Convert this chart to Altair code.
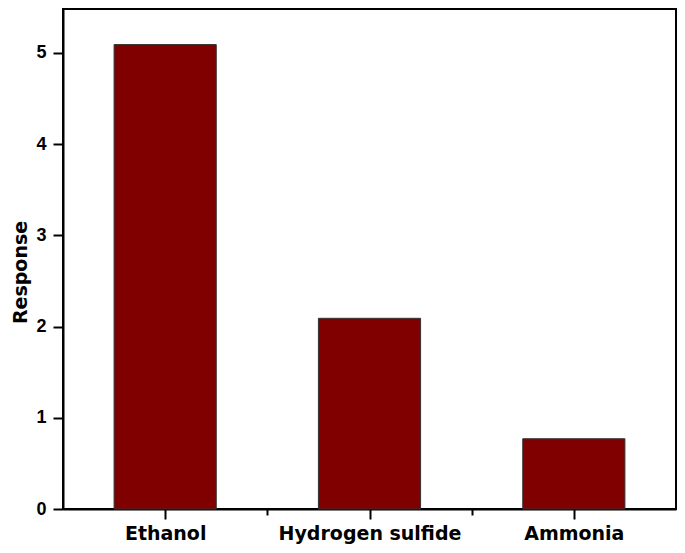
import altair as alt
import pandas as pd

categories = ["Ethanol", "Hydrogen sulfide", "Ammonia"]
responses = [5.09, 2.09, 0.77]
y_ticks = [0, 0.5, 1, 1.5, 2, 2.5, 3, 3.5, 4, 4.5, 5]
x_ticks = [0.5, 1, 1.5, 2, 2.5]

df = pd.DataFrame({"category": categories, "response": responses})

FONT = "Liberation Sans"
XFONT = "DejaVu Sans"

label_expr = " : ".join(
    [f"datum.value == {i + 0.5} ? '{c}'" for i, c in enumerate(categories)]
) + " : ''"

bars = alt.Chart(df).mark_bar(
    color="#800000", stroke="#333333", strokeWidth=1
).encode(
    x=alt.X("category:N", sort=categories, axis=None,
            scale=alt.Scale(paddingInner=0.5, paddingOuter=0.25)),
    y=alt.Y("response:Q",
            scale=alt.Scale(domain=[0, 5.48], nice=False, zero=True),
            axis=alt.Axis(
                title="Response", values=y_ticks, format="d",
                labelExpr="datum.value % 1 == 0 ? datum.label : ''",
                tickSize={"condition": {"test": "datum.value % 1 == 0", "value": 10}, "value": 6},
                tickColor="black", tickWidth=2, domainColor="black", domainWidth=2,
                labelFont=FONT, labelFontSize=18, labelFontWeight="bold", labelColor="black",
                labelPadding=7, titleFont=XFONT, titleFontSize=19, titleFontWeight="bold",
                titleColor="black", titleAngle=270, titleAlign="center",
                titleBaseline="alphabetic", titleX=-37, titleY=263, grid=False)),
)

axis_layer = alt.Chart(df).transform_window(
    idx="row_number()"
).transform_calculate(
    pos="datum.idx - 0.5"
).mark_point(opacity=0).encode(
    x=alt.X("pos:Q", scale=alt.Scale(domain=[0, 3], nice=False, zero=False),
            axis=alt.Axis(
                title=None, values=x_ticks, labelExpr=label_expr,
                tickSize={"condition": {"test": "datum.value % 1 == 0", "value": 6}, "value": 10},
                tickColor="black", tickWidth=2, domainColor="black", domainWidth=2,
                labelFont=XFONT, labelFontSize=19, labelFontWeight="bold", labelColor="black",
                labelPadding=5, labelLimit=0, labelFlush=False, labelOverlap=False, grid=False)),
    y=alt.Y("response:Q"),
)

chart = alt.layer(bars, axis_layer).resolve_scale(x="independent").properties(
    width=613, height=500,
    autosize=alt.AutoSizeParams(type="none"),
    padding={"left": 55, "top": 1, "right": 1, "bottom": 36},
).configure_view(
    stroke="black", strokeWidth=2
)

chart.save("out.html", embed_options={"renderer": "svg", "actions": False})
